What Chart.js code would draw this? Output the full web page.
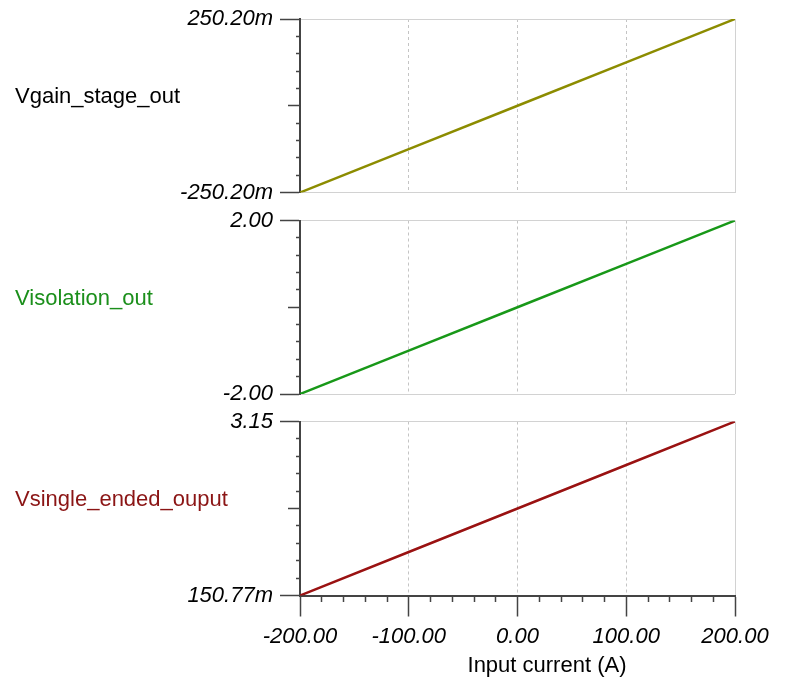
<!DOCTYPE html>
<html>
<head>
<meta charset="utf-8">
<script src="https://cdn.jsdelivr.net/npm/chart.js@4"></script>
<style>
  body { margin: 0; background: #fff; }
  #wrap { position: relative; width: 793px; height: 681px; overflow: hidden; font-family: "Liberation Sans", Arial, sans-serif; }
  canvas { position: absolute; left: 0; }
  .label { position: absolute; font-size: 22px; line-height: 22px; white-space: nowrap; }
</style>
</head>
<body>
<div id="wrap">
  <canvas id="gainChart" width="793" height="224" style="top:-6px"></canvas>
  <canvas id="isolationChart" width="793" height="224" style="top:195px"></canvas>
  <canvas id="singleEndedChart" width="793" height="285" style="top:396px"></canvas>

  <div class="label" style="left:15px;top:85px;color:#000">Vgain_stage_out</div>
  <div class="label" style="left:15px;top:287px;color:#1b8f1b">Visolation_out</div>
  <div class="label" style="left:15px;top:488px;color:#8b1515">Vsingle_ended_ouput</div>
  <div class="label" style="left:447px;top:654px;width:200px;text-align:center;color:#000">Input current (A)</div>
</div>

<script>
// Data
const inputCurrent = [-200, -100, 0, 100, 200];
const vGainStageOut = [-0.2502, -0.1251, 0, 0.1251, 0.2502];
const vIsolationOut = [-2.0, -1.0, 0, 1.0, 2.0];
const vSingleEndedOutput = [0.15077, 0.9004, 1.6504, 2.4004, 3.15];

// Axis ranges and tick labels
const gainRange = [-0.2502, 0.2502];
const isolationRange = [-2.0, 2.0];
const singleEndedRange = [0.15077, 3.15];

const gainTickLabels = ["-250.20m", "250.20m"];
const isolationTickLabels = ["-2.00", "2.00"];
const singleEndedTickLabels = ["150.77m", "3.15"];

const xMajorTicks = [-200, -100, 0, 100, 200];
const xTickLabels = ["-200.00", "-100.00", "0.00", "100.00", "200.00"];

const tickFont = { family: "'Liberation Sans', Arial, sans-serif", size: 22, style: "italic" };
const axisColor = "#444";
const Y_DIVISIONS = 10;

function createPanel(elementId, values, color, range, yLabels, padding, showXAxis) {
  const ctx = document.getElementById(elementId).getContext("2d");
  const isMajorX = v => xMajorTicks.indexOf(v) >= 0;

  return new Chart(ctx, {
    type: "line",
    data: {
      labels: inputCurrent,
      datasets: [{
        data: inputCurrent.map((x, i) => ({ x: x, y: values[i] })),
        borderColor: color,
        borderWidth: 2.5,
        pointRadius: 0,
        tension: 0,
        fill: false,
      }],
    },
    options: {
      responsive: false,
      animation: false,
      layout: { padding: padding },
      plugins: {
        legend: { display: false },
        tooltip: { enabled: false },
      },
      scales: {
        x: {
          type: "linear",
          min: -200,
          max: 200,
          afterFit: showXAxis ? scale => { scale.height = 85.5; } : undefined,
          ticks: {
            display: showXAxis,
            stepSize: 20,
            autoSkip: false,
            maxRotation: 0,
            padding: 7,
            color: "#000",
            font: tickFont,
            callback: v => {
              const i = xMajorTicks.indexOf(v);
              return i >= 0 ? xTickLabels[i] : "";
            },
          },
          grid: {
            color: c => {
              if (!c.tick) return "rgba(0,0,0,0)";
              const v = c.tick.value;
              if (v === 200) return "#d2d2d2";
              if (Math.abs(v) < 200 && isMajorX(v)) return "#c4c4c4";
              return "rgba(0,0,0,0)";
            },
            drawTicks: showXAxis,
            tickLength: 21,
            tickColor: axisColor,
            tickWidth: 1.5,
            tickBorderDash: c => (c.tick && isMajorX(c.tick.value)) ? [] : [5, 100],
          },
          border: {
            display: showXAxis,
            color: axisColor,
            width: 2,
            dash: c => (c.tick && Math.abs(c.tick.value) < 200) ? [3, 3] : [],
          },
        },
        y: {
          type: "linear",
          min: range[0],
          max: range[1],
          afterBuildTicks: scale => {
            const step = (range[1] - range[0]) / Y_DIVISIONS;
            scale.ticks = Array.from({ length: Y_DIVISIONS + 1 }, (_, i) => ({ value: range[0] + step * i }));
          },
          afterFit: scale => { scale.width = 300; },
          ticks: {
            autoSkip: false,
            padding: 7,
            color: "#000",
            font: tickFont,
            callback: (v, i, ticks) => {
              if (i === 0) return yLabels[0];
              if (i === ticks.length - 1) return yLabels[1];
              return "";
            },
          },
          grid: {
            color: c => {
              if (c.index === Y_DIVISIONS) return "#d2d2d2";
              if (c.index === 0 && !showXAxis) return "#d2d2d2";
              return "rgba(0,0,0,0)";
            },
            tickLength: 20,
            tickColor: axisColor,
            tickWidth: 1.5,
            tickBorderDash: c => {
              if (c.index === 0 || c.index === Y_DIVISIONS) return [];
              if (c.index === Y_DIVISIONS / 2) return [0, 8, 12, 100];
              return [0, 16, 4, 100];
            },
          },
          border: { color: axisColor, width: 2 },
        },
      },
    },
  });
}

// Canvases overlap a little so each chart keeps enough room for its end labels
createPanel("gainChart", vGainStageOut, "#8c8c00", gainRange, gainTickLabels,
  { top: 25, right: 58, bottom: 25.5, left: 0 }, false);
createPanel("isolationChart", vIsolationOut, "#189818", isolationRange, isolationTickLabels,
  { top: 25.5, right: 58, bottom: 25, left: 0 }, false);
createPanel("singleEndedChart", vSingleEndedOutput, "#9a1212", singleEndedRange, singleEndedTickLabels,
  { top: 25.5, right: 58, bottom: 0, left: 0 }, true);
</script>
</body>
</html>
